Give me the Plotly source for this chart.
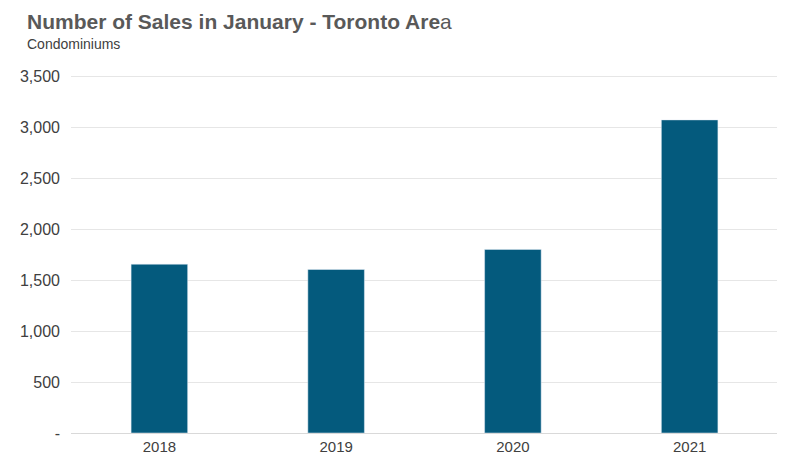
import plotly.graph_objects as go

# =========================
# DATA
# =========================

years = ["2018", "2019", "2020", "2021"]
sales = [1655, 1603, 1800, 3070]

tick_vals = [0, 500, 1000, 1500, 2000, 2500, 3000, 3500]
tick_text = ["-", "500", "1,000", "1,500", "2,000", "2,500", "3,000", "3,500"]

# =========================
# FIGURE
# =========================

fig = go.Figure()

fig.add_trace(
    go.Bar(
        x=years,
        y=sales,
        width=0.32,
        marker=dict(color="#045a7d"),
        hoverinfo="x+y"
    )
)

fig.update_xaxes(
    showline=True,
    linecolor="#d9d9d9",
    tickfont=dict(size=15, color="#404040"),
    ticks=""
)

fig.update_yaxes(
    range=[0, 3510],
    tickvals=tick_vals,
    ticktext=tick_text,
    gridcolor="#e6e6e6",
    tickfont=dict(size=16, color="#404040"),
    ticklabelstandoff=10,
    zeroline=False
)

fig.add_annotation(
    text="<b>Number of Sales in January - Toronto Are</b>a",
    xref="paper", yref="paper", x=0, y=1,
    xanchor="left", yanchor="bottom",
    xshift=-46, yshift=40,
    showarrow=False,
    font=dict(size=21, color="#595959")
)

fig.add_annotation(
    text="Condominiums",
    xref="paper", yref="paper", x=0, y=1,
    xanchor="left", yanchor="bottom",
    xshift=-46, yshift=21,
    showarrow=False,
    font=dict(size=14, color="#404040")
)

fig.update_layout(
    width=785,
    height=468,
    font=dict(family="Liberation Sans, Arial, sans-serif"),
    plot_bgcolor="white",
    paper_bgcolor="white",
    showlegend=False,
    margin=dict(l=54, r=15, t=67, b=43)
)

fig.write_html("out.html")
